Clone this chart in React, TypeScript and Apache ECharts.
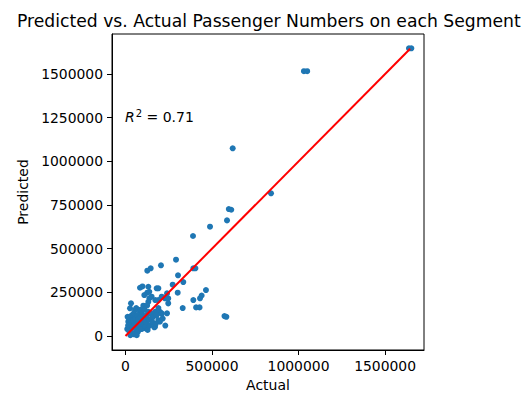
import React, { useEffect, useRef } from "react";
import * as echarts from "echarts";

const titleText = "Predicted vs. Actual Passenger Numbers on each Segment";
const xTicks = [0, 500000, 1000000, 1500000];
const yTicks = [0, 250000, 500000, 750000, 1000000, 1250000, 1500000];
const r2Value = "0.71";
const fitLine = [
  [0, 0],
  [1645000, 1645000],
];

// [actual, predicted]
const largePoints = [
  [1638000, 1647000], [1652000, 1647000],
  [1031000, 1516000], [1050000, 1516000],
  [619600, 1074600], [841000, 817000],
  [597000, 727000], [611000, 723000],
  [586700, 662000], [488400, 626000], [390000, 572500],
  [392000, 387500], [404000, 387500], [292000, 437000],
  [205000, 405000], [145600, 387500], [126000, 374000],
  [303500, 347500], [334000, 309000], [272600, 293800],
  [465000, 263000], [301600, 248000], [240000, 244000],
  [430600, 216000], [440000, 232000], [392000, 206000],
  [330600, 160000], [408000, 164000], [428000, 164000],
  [572000, 114000], [583000, 110000],
];

const midPoints = [
  [83800, 276500], [98000, 284000], [132000, 282000], [180000, 273000],
  [190000, 273000], [137600, 253600], [126000, 248000], [108600, 234700],
  [228300, 215800], [151000, 225000], [209000, 225000], [189600, 206000],
  [172000, 206000], [137600, 216000], [132000, 196000], [31800, 187000],
  [103000, 173500], [247000, 187000], [247000, 215000], [26000, 158600],
  [55000, 149000], [83800, 139000], [132000, 139000], [170500, 139000],
  [199000, 139000], [209000, 130000], [209000, 126000], [26000, 110500],
  [112700, 110500], [151000, 101300], [189600, 91600], [199000, 82000],
  [16200, 82000], [55000, 72700], [93600, 82000], [132000, 63000],
  [170500, 53000], [166700, 50000], [26000, 44000], [64700, 34000],
  [103000, 44000], [45000, 15500],
];

const clusterPoints = [
  [10000, 40000], [15000, 60000], [20000, 30000], [22000, 95000],
  [30000, 70000], [35000, 20000], [38000, 120000], [40000, 50000],
  [45000, 90000], [48000, 130000], [50000, 10000], [52000, 60000],
  [58000, 100000], [60000, 45000], [62000, 160000], [68000, 120000],
  [70000, 75000], [72000, 25000], [75000, 95000], [80000, 55000],
  [85000, 150000], [88000, 110000], [92000, 40000], [95000, 125000],
  [100000, 70000], [105000, 95000], [110000, 150000], [115000, 55000],
  [118000, 80000], [122000, 120000], [125000, 175000], [128000, 35000],
  [135000, 95000], [140000, 60000], [145000, 130000], [155000, 80000],
  [160000, 110000], [175000, 70000], [180000, 120000], [190000, 160000],
  [215000, 100000], [240000, 130000], [230000, 60000], [12000, 110000],
  [28000, 5000], [65000, 5000],
];

const FONT = "DejaVu Sans";

export default function App() {
  const ref = useRef<HTMLDivElement>(null);
  useEffect(() => {
    if (!ref.current) return;
    const chart = echarts.init(ref.current, null, { renderer: "svg" });
    const axisCommon = {
      type: "value" as const,
      splitLine: { show: false },
      axisLine: { show: true, onZero: false, lineStyle: { color: "#000", width: 1 } },
      nameTextStyle: { fontFamily: FONT, fontSize: 14, color: "#000" },
    };
    chart.setOption({
      animation: false,
      backgroundColor: "#fff",
      title: {
        text: titleText,
        left: 12,
        top: 7,
        textStyle: { fontFamily: FONT, fontSize: 17.2, fontWeight: "normal", color: "#000" },
      },
      grid: {
        left: 112,
        right: 102,
        top: 34,
        bottom: 44,
        outerBoundsMode: "none",
        containLabel: false,
        show: true,
        borderColor: "#000",
        borderWidth: 1,
        backgroundColor: "transparent",
      },
      xAxis: {
        ...axisCommon,
        min: -78000,
        max: 1725000,
        name: "Actual",
        nameLocation: "middle",
        nameGap: 24,
        axisTick: { show: true, length: 5, inside: false, customValues: xTicks, lineStyle: { color: "#000" } },
        axisLabel: {
          customValues: xTicks,
          margin: 9,
          fontFamily: FONT,
          fontSize: 13.9,
          color: "#000",
          formatter: (v: number) => String(v),
        },
      },
      yAxis: {
        ...axisCommon,
        min: -80000,
        max: 1729000,
        name: "Predicted",
        nameLocation: "middle",
        nameGap: 81,
        axisTick: { show: true, length: 5, inside: false, customValues: yTicks, lineStyle: { color: "#000" } },
        axisLabel: {
          customValues: yTicks,
          margin: 9,
          fontFamily: FONT,
          fontSize: 13.9,
          color: "#000",
          formatter: (v: number) => String(v),
        },
      },
      graphic: [
        {
          type: "text",
          left: 125,
          top: 108,
          style: {
            text: "{i|R}{s|2}{n| = " + r2Value + "}",
            rich: {
              i: { fontFamily: FONT, fontSize: 14, fontStyle: "italic", fill: "#000" },
              s: { fontFamily: FONT, fontSize: 10, fill: "#000", verticalAlign: "top", padding: [0, 0, 8, 1] },
              n: { fontFamily: FONT, fontSize: 14, fill: "#000" },
            },
          },
        },
      ],
      series: [
        {
          type: "scatter",
          data: [...largePoints, ...midPoints, ...clusterPoints],
          symbolSize: 6,
          itemStyle: { color: "#1f77b4", opacity: 1 },
          z: 2,
        },
        {
          type: "line",
          data: fitLine,
          symbol: "none",
          lineStyle: { color: "#ff0000", width: 2 },
          z: 3,
        },
      ],
    });
    return () => chart.dispose();
  }, []);
  return <div ref={ref} style={{ width: 526, height: 394, position: "absolute", left: 0, top: 0 }} />;
}
